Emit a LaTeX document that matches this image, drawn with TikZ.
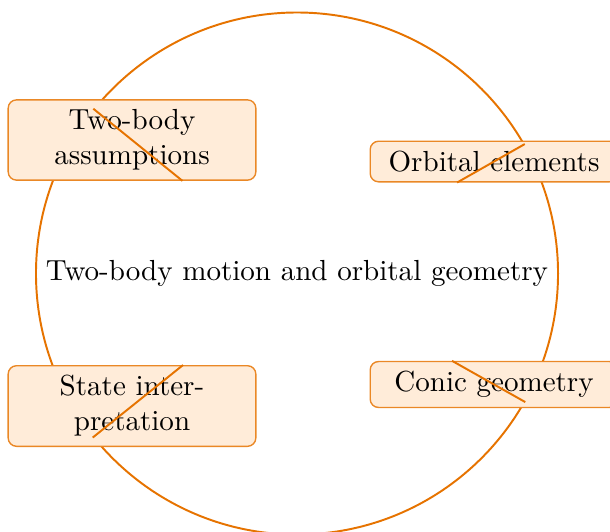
\documentclass[tikz,border=0pt]{standalone}
\usepackage{tikz}
\definecolor{orbitorange}{RGB}{230,115,0}
\definecolor{orbitfill}{RGB}{255,236,217}
\usetikzlibrary{positioning}

\begin{document}
\begin{tikzpicture}[
  every node/.style={font=\fontsize{10.45}{12.6}\selectfont},
  hub/.style={circle, draw=orbitorange, line width=0.7pt, minimum size=6.6cm, inner sep=0pt},
  topic/.style={draw=orbitorange!85, fill=orbitfill, rounded corners=3pt, line width=0.5pt,
    text width=2.85cm, align=center, inner xsep=4pt, inner ysep=3.5pt},
  link/.style={orbitorange, line width=0.7pt}
]
  \useasboundingbox (-3.755,-3.256) rectangle (3.957,3.458);
  \node[hub] (core) at (0,0) {Two-body motion and orbital geometry};
  \node[topic] (assume) at (-2.086,1.688) {Two-body assumptions};
  \node[topic] (elements) at (2.491,1.416) {Orbital elements};
  \node[topic] (conic) at (2.491,-1.403) {Conic geometry};
  \node[topic] (state) at (-2.086,-1.675) {State interpretation};
  \draw[link] (core) -- (assume);
  \draw[link] (core) -- (elements);
  \draw[link] (core) -- (conic);
  \draw[link] (core) -- (state);
\end{tikzpicture}
\end{document}
